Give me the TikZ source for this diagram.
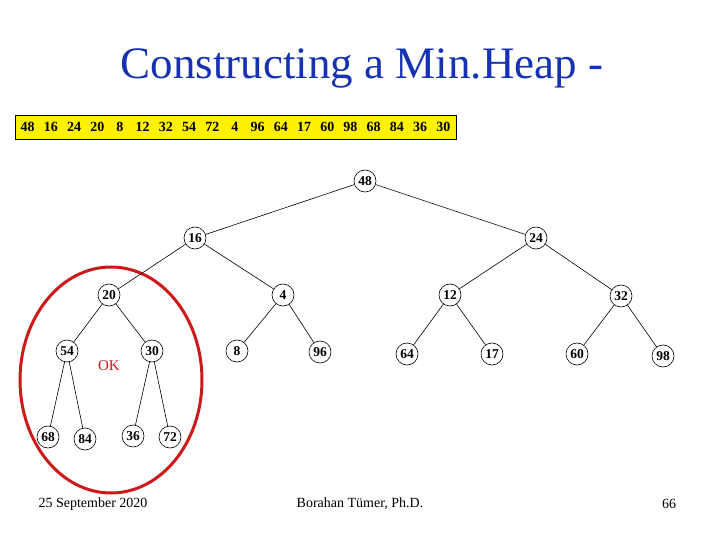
\documentclass[tikz,border=0pt]{standalone}
\usepackage{fontspec}
\setmainfont{Liberation Serif}
\definecolor{titleblue}{RGB}{22,50,178}
\definecolor{circlered}{RGB}{205,25,25}
\begin{document}
\begin{tikzpicture}[x=1pt,y=-1pt,
	heapnode/.style={draw,circle,minimum size=22pt,inner sep=0pt,line width=0.6pt,font=\fontsize{13.5}{13.5}\selectfont\bfseries},
	footer/.style={font=\fontsize{14}{14}\selectfont}]
	\useasboundingbox (0,0) rectangle (720,540);
	\node[text=titleblue,font=\fontsize{45}{45}\selectfont] (title) at (362,68) {Constructing a Min.Heap -};
	\node[draw,fill=yellow,minimum width=441pt,minimum height=24pt,inner sep=0pt,font=\fontsize{14}{14}\selectfont\bfseries] (input) at (235.5,127)
		{\spaceskip=9.2pt 48 16 24 20 \hspace{3pt}8 \hspace{3pt}12 32 54 72 \hspace{3pt}4 \hspace{3pt}96 64 17 60 98 68 84 36 30};
	
	% the red ring round the subtree of 20
	\draw[circlered,line width=3pt] (111,380) ellipse [x radius=91pt,y radius=113pt];
	\node[text=circlered,font=\fontsize{15}{15}\selectfont] (ok) at (109,366) {OK};
	
	\node[heapnode] (n48) at (365,181) {48};
	\node[heapnode] (n16) at (195,238) {16};
	\node[heapnode] (n24) at (536,238) {24};
	\node[heapnode] (n20) at (109,295) {20};
	\node[heapnode] (n4) at (283,295) {4};
	\node[heapnode] (n12) at (450,295) {12};
	\node[heapnode] (n32) at (621,296) {32};
	\node[heapnode] (n54) at (67,351) {54};
	\node[heapnode] (n30) at (152,351) {30};
	\node[heapnode] (n8) at (237,351) {8};
	\node[heapnode] (n96) at (320,352) {96};
	\node[heapnode] (n64) at (407,354) {64};
	\node[heapnode] (n17) at (492,354) {17};
	\node[heapnode] (n60) at (577,354) {60};
	\node[heapnode] (n98) at (663,356) {98};
	\node[heapnode] (n68) at (48,437) {68};
	\node[heapnode] (n84) at (85,439) {84};
	\node[heapnode] (n36) at (133,436) {36};
	\node[heapnode] (n72) at (170,437) {72};
	
	\path[line width=0.6pt] (n48) edge (n16)
	(n48) edge (n24)
	(n16) edge (n20)
	(n16) edge (n4)
	(n24) edge (n12)
	(n24) edge (n32)
	(n20) edge (n54)
	(n20) edge (n30)
	(n4) edge (n8)
	(n4) edge (n96)
	(n12) edge (n64)
	(n12) edge (n17)
	(n32) edge (n60)
	(n32) edge (n98)
	(n54) edge (n68)
	(n54) edge (n84)
	(n30) edge (n36)
	(n30) edge (n72);
	
	\node[footer] (date) at (93,504) {25 September 2020};
	\node[footer] (author) at (360,504) {Borahan Tümer, Ph.D.};
	\node[footer] (page) at (669,504) {66};
\end{tikzpicture}
\end{document}
